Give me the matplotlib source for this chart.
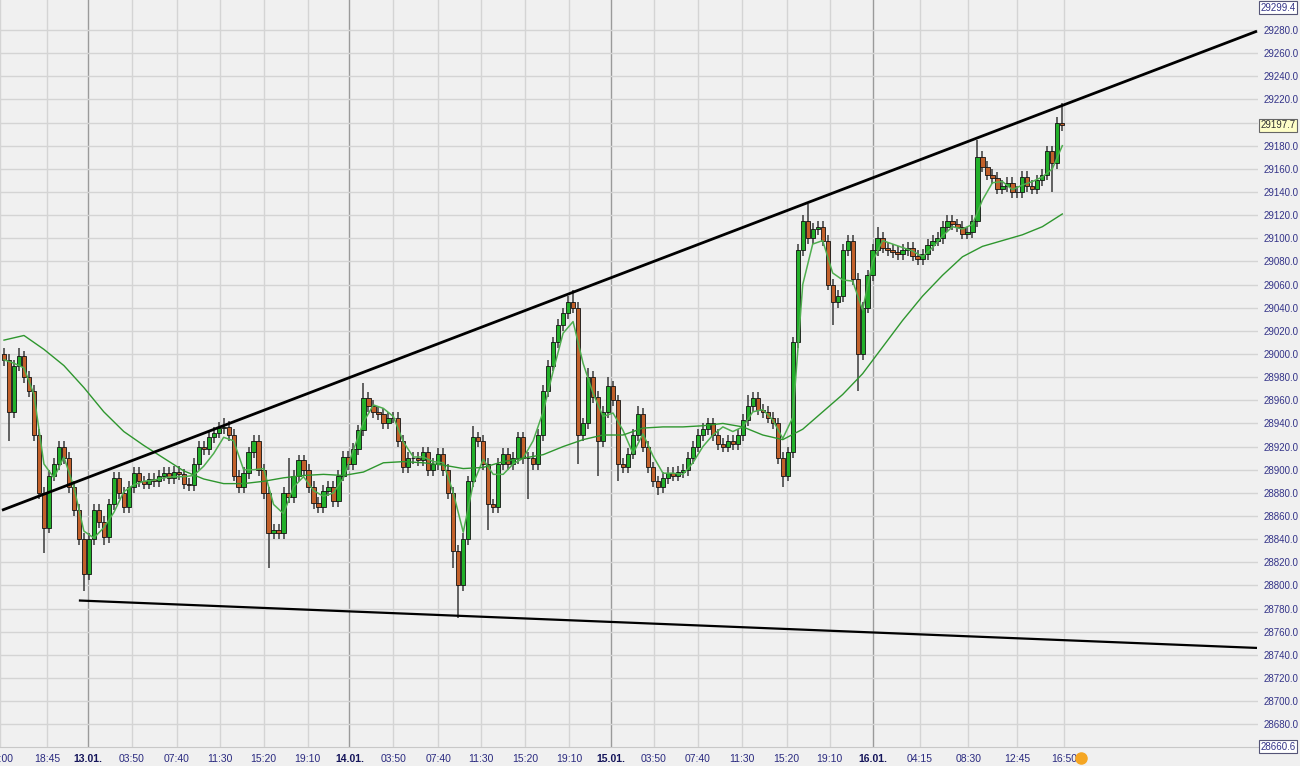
import numpy as np
import matplotlib.pyplot as plt
from matplotlib.lines import Line2D

plt.rcParams['font.family'] = ['Liberation Sans', 'DejaVu Sans']

# close prices, one candle per bar
closes = [
    28995, 28950, 28990, 28998, 28980, 28968, 28930, 28880, 28850, 28895,
    28905, 28920, 28910, 28885, 28865, 28840, 28810, 28840, 28865, 28855,
    28842, 28870, 28893, 28880, 28868, 28885, 28897, 28890, 28888, 28892,
    28890, 28895, 28897, 28893, 28898, 28896, 28888, 28887, 28905, 28920,
    28918, 28928, 28932, 28936, 28937, 28930, 28895, 28885, 28897, 28915,
    28925, 28900, 28880, 28845, 28848, 28845, 28880, 28876, 28895, 28908,
    28900, 28885, 28871, 28868, 28882, 28885, 28873, 28895, 28911, 28905,
    28918, 28934, 28962, 28955, 28950, 28948, 28940, 28945, 28945, 28925,
    28902, 28910, 28910, 28908, 28915, 28900, 28905, 28914, 28900, 28880,
    28830, 28800, 28840, 28890, 28928, 28925, 28905, 28870, 28868, 28905,
    28914, 28905, 28910, 28928, 28910, 28910, 28905, 28930, 28968, 28990,
    29010, 29025, 29035, 29045, 29040, 28930, 28940, 28980, 28963, 28925,
    28950, 28972, 28960, 28905, 28902, 28914, 28930, 28948, 28920, 28902,
    28890, 28885, 28893, 28897, 28895, 28898, 28900, 28910, 28920, 28930,
    28935, 28940, 28930, 28922, 28920, 28925, 28922, 28930, 28943, 28955,
    28962, 28952, 28950, 28945, 28940, 28910, 28895, 28915, 29010, 29090,
    29115, 29100, 29108, 29110, 29098, 29060, 29045, 29050, 29090, 29098,
    29065, 29000, 29040, 29068, 29090, 29100, 29092, 29090, 29088, 29086,
    29090, 29092, 29085, 29082, 29086, 29094, 29098, 29100, 29110, 29115,
    29112, 29110, 29104, 29105, 29115, 29170, 29162, 29155, 29152, 29143,
    29145, 29148, 29140, 29140, 29153, 29145, 29143, 29150, 29155, 29175,
    29165, 29200, 29197.7,
]
first_open = 29000
wick = 5  # usual wick length
# bars with long wicks: bar -> high / low
high_spikes = {3: 29005, 44: 28945, 57: 28910, 72: 28975, 94: 28938, 114: 29055,
               117: 28988, 121: 28980, 127: 28955, 149: 28965, 161: 29130,
               175: 29110, 195: 29185, 212: 29217}
low_spikes = {1: 28925, 8: 28828, 16: 28795, 20: 28835, 53: 28815, 90: 28815,
              91: 28772, 97: 28848, 105: 28875, 115: 28905, 119: 28895,
              123: 28890, 131: 28878, 156: 28885, 166: 29025, 171: 28968,
              210: 29140}

# moving averages (fast: every 2nd bar, slow: every 4th bar)
fast_ma = [
    28995, 28992, 28988, 28965, 28905, 28893, 28911, 28885, 28847, 28841,
    28850, 28863, 28881, 28887, 28890, 28891, 28893, 28894, 28894, 28895,
    28903, 28914, 28928, 28925, 28900, 28900, 28901, 28870, 28862, 28885,
    28894, 28882, 28877, 28880, 28893, 28917, 28941, 28956, 28953, 28946,
    28924, 28911, 28911, 28907, 28906, 28880, 28846, 28888, 28909, 28896,
    28896, 28905, 28910, 28925, 28950, 28985, 29018, 29028, 28992, 28966,
    28946, 28949, 28934, 28914, 28931, 28912, 28897, 28897, 28896, 28906,
    28920, 28930, 28937, 28933, 28937, 28950, 28952, 28943, 28927, 28945,
    29060, 29095, 29098, 29070, 29064, 29063, 29038, 29080, 29098, 29095,
    29092, 29089, 29084, 29092, 29102, 29110, 29108, 29112, 29133, 29148,
    29149, 29142, 29146, 29149, 29153, 29160, 29180,
]
slow_ma = [
    29012, 29016, 29004, 28990, 28971, 28950, 28933, 28921, 28910, 28899,
    28892, 28888, 28888, 28890, 28893, 28895, 28896, 28895, 28898, 28906,
    28907, 28906, 28904, 28901, 28902, 28907, 28910, 28913, 28920, 28926,
    28930, 28930, 28936, 28937, 28937, 28938, 28940, 28937, 28930, 28926,
    28935, 28950, 28965, 28983, 29006, 29029, 29050, 29068, 29084, 29093,
    29098, 29103, 29110, 29121,
]

# hand drawn trend lines (bar, price)
upper_trend = [(-0.4, 28865), (251.0, 29279)]
lower_trend = [(15.0, 28787), (251.0, 28746)]

# time axis labels (bar position, text)
tick_pos = [-0.8, 8.6, 16.8, 25.6, 34.6, 43.2, 52, 60.8, 69.2, 78, 87, 95.6,
            104.4, 113.2, 121.6, 130.2, 139, 147.8, 156.8, 165.4, 174, 183.4,
            193.2, 203, 212.4]
tick_text = ['15:00', '18:45', '13.01.', '03:50', '07:40', '11:30', '15:20',
             '19:10', '14.01.', '03:50', '07:40', '11:30', '15:20', '19:10',
             '15.01.', '03:50', '07:40', '11:30', '15:20', '19:10', '16.01.',
             '04:15', '08:30', '12:45', '16:50']

price_max = 29299.4
price_min = 28660.6
last_price = 29197.7

# ohlc
c = np.array(closes, dtype=float)
n = len(c)
bars = np.arange(n)
o = np.r_[first_open, c[:-1]]
h = np.maximum(o, c) + wick
l = np.minimum(o, c) - wick
for k, v in high_spikes.items():
    h[k] = v
for k, v in low_spikes.items():
    l[k] = v

bg = '#f0f0f0'
fig = plt.figure(figsize=(13, 7.66), dpi=100, facecolor=bg)
ax = fig.add_axes([0, 19 / 766, 1258 / 1300, 747 / 766])
ax.set_facecolor(bg)
ax.set_xlim(-0.4, 251.2)
ax.set_ylim(28660.4, 29305.9)

# grid
yt = np.arange(28680, 29281, 20)
ax.set_yticks(yt)
ax.set_yticklabels(['' if v == 29200 else f'{v:.1f}' for v in yt])
ax.grid(axis='y', color='#d4d4d4', lw=1, zorder=0)
for p, t in zip(tick_pos, tick_text):
    day = t.endswith('.')
    ax.axvline(p, color='#9a9a9a' if day else '#d4d4d4', lw=1, zorder=0)

# candles
up = c >= o
ax.vlines(bars, l, h, color='#3a3a3a', lw=1.1, zorder=2)
ax.bar(bars[up], (c - o)[up], bottom=o[up], width=0.85, color='#22b02a',
       edgecolor='#111111', lw=0.6, zorder=3)
ax.bar(bars[~up], (o - c)[~up], bottom=c[~up], width=0.85, color='#c2602a',
       edgecolor='#111111', lw=0.6, zorder=3)

# moving averages
ax.plot(bars[::2], fast_ma, color='#4fae4f', lw=1.1, zorder=4)
ax.plot(bars[::4], slow_ma, color='#2e962e', lw=1.0, zorder=4)

# trend lines
ax.plot(*zip(*upper_trend), color='black', lw=2, zorder=5, solid_capstyle='butt')
ax.plot(*zip(*lower_trend), color='black', lw=1.6, zorder=5, solid_capstyle='butt')

# axes styling
for s in ['top', 'left', 'right']:
    ax.spines[s].set_visible(False)
ax.spines['bottom'].set_color('#c8c8c8')
ax.yaxis.tick_right()
ax.tick_params(axis='y', length=0, pad=4, labelsize=7, labelcolor='#333388')
ax.set_xticks(tick_pos)
ax.set_xticklabels(tick_text)
ax.tick_params(axis='x', length=0, pad=5, labelsize=7.5, labelcolor='#2a2a80')
for lab in ax.get_xticklabels():
    if lab.get_text().endswith('.'):
        lab.set_fontweight('bold')
        lab.set_color('#14145a')

# boxed price labels on the right
ytr = ax.get_yaxis_transform()
box = dict(boxstyle='square,pad=0.15', fc='white', ec='#555577', lw=0.8)
ax.text(1.002, price_max, f'{price_max:.1f}', transform=ytr, va='center',
        ha='left', fontsize=7, color='#333388', bbox=box, clip_on=False)
ax.text(1.002, price_min, f'{price_min:.1f}', transform=ytr, va='center',
        ha='left', fontsize=7, color='#333388', bbox=box, clip_on=False)
ax.text(1.002, last_price, f'{last_price:.1f}', transform=ytr, va='center',
        ha='left', fontsize=7, color='#333333', clip_on=False,
        bbox=dict(boxstyle='square,pad=0.15', fc='#ffffc8', ec='#666666', lw=0.8))

# small clock icon after the last time label
fig.add_artist(Line2D([1081 / 1300], [1 - 758 / 766], marker='o', markersize=8,
                      color='#f5a623', transform=fig.transFigure))

fig.savefig('out.png', dpi=100, facecolor=bg)
